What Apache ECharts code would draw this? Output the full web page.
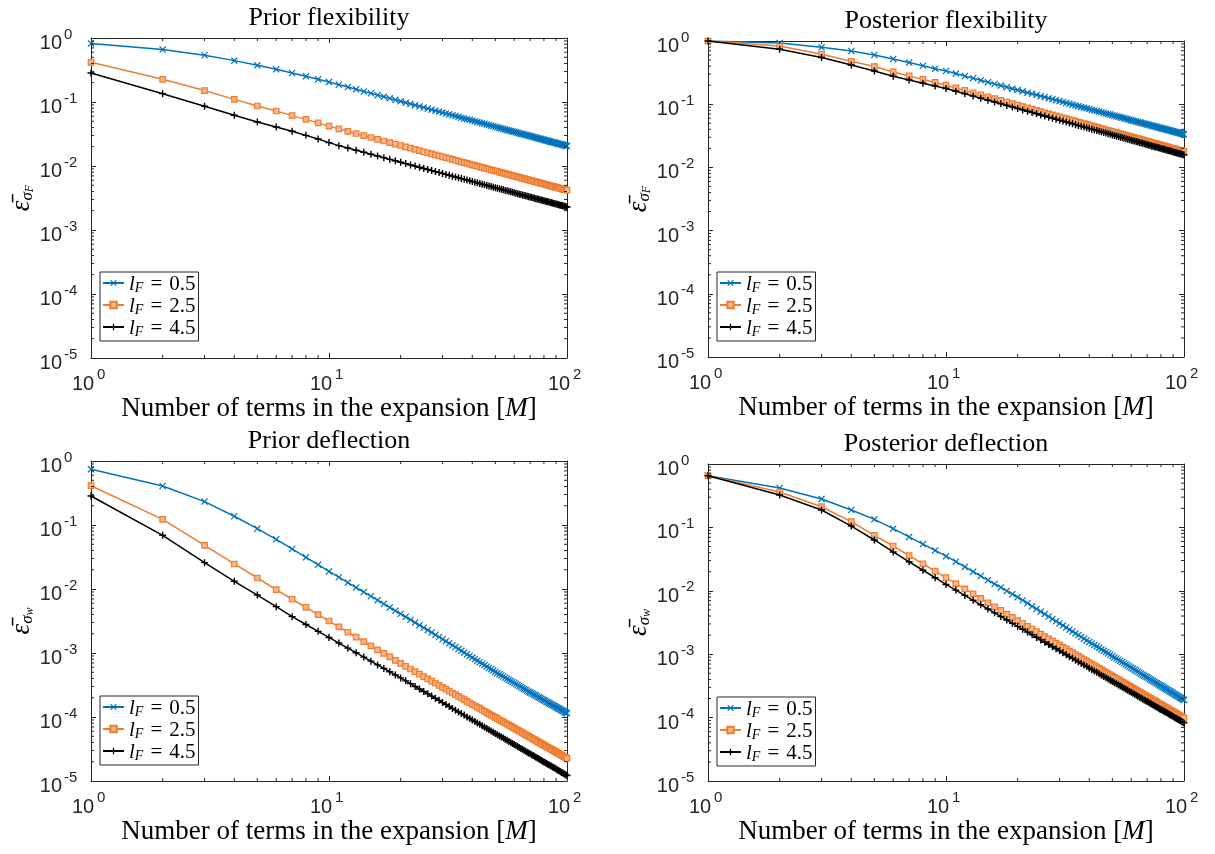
<!DOCTYPE html>
<html>
<head>
<meta charset="utf-8">
<script src="https://cdn.jsdelivr.net/npm/echarts@6.0.0/dist/echarts.min.js"></script>
<style>html,body{margin:0;padding:0;background:#fff}#c{width:1215px;height:854px}</style>
</head>
<body>
<div id="c"></div>
<script>
// ---------------- data ----------------
const M = [1,2,3,4,5,6,7,8,9,10,11,12,13,14,15,16,17,18,19,20,21,22,23,24,25,26,27,28,29,30,
31,32,33,34,35,36,37,38,39,40,41,42,43,44,45,46,47,48,49,50,51,52,53,54,55,56,57,58,59,60,
61,62,63,64,65,66,67,68,69,70,71,72,73,74,75,76,77,78,79,80,81,82,83,84,85,86,87,88,89,90,
91,92,93,94,95,96,97,98,99,100];

const TITLES = ['Prior flexibility', 'Posterior flexibility', 'Prior deflection', 'Posterior deflection'];
const Y_SUBS = ['F', 'F', 'w', 'w'];
const LF_VALUES = ['0.5', '2.5', '4.5'];
const X_LABEL = 'Number of terms in the expansion';
const TICK_BASE = '10';

const priorFlexL05 = [0.818,0.659,0.537,0.443,0.374,0.324,0.284,0.252,0.226,0.205,
0.186,0.171,0.158,0.146,0.137,0.128,0.121,0.114,0.108,0.1025,
0.0976,0.0932,0.0891,0.0854,0.082,0.0788,0.0759,0.0732,0.0707,0.0683,
0.0661,0.0641,0.0621,0.0603,0.0586,0.0569,0.0554,0.0539,0.0526,0.0513,
0.05,0.0488,0.0477,0.0466,0.0456,0.0446,0.0436,0.0427,0.0418,0.041,
0.0402,0.0394,0.0387,0.038,0.0373,0.0366,0.036,0.0353,0.0347,0.0342,
0.0336,0.0331,0.0325,0.032,0.0315,0.0311,0.0306,0.0301,0.0297,0.0293,
0.0289,0.0285,0.0281,0.0277,0.0273,0.027,0.0266,0.0263,0.0259,0.0256,
0.0253,0.025,0.0247,0.0244,0.0241,0.0238,0.0236,0.0233,0.023,0.0228,
0.0225,0.0223,0.022,0.0218,0.0216,0.0214,0.0211,0.0209,0.0207,0.0205];
const priorFlexL25 = [0.417,0.226,0.151,0.110,0.0866,0.0724,0.0613,0.0535,0.0472,0.0420,
0.038,0.0348,0.0322,0.0299,0.0279,0.0261,0.0246,0.0232,0.022,0.0209,
0.0199,0.019,0.0182,0.0174,0.0167,0.0161,0.0155,0.0149,0.0144,0.0139,
0.0135,0.0131,0.0127,0.0123,0.0119,0.0116,0.0113,0.011,0.0107,0.01045,
0.0102,0.00995,0.00972,0.0095,0.00929,0.00909,0.00889,0.00871,0.00853,0.00836,
0.0082,0.00804,0.00789,0.00774,0.0076,0.00746,0.00733,0.00721,0.00708,0.00697,
0.00685,0.00674,0.00663,0.00653,0.00643,0.00633,0.00624,0.00615,0.00606,0.00597,
0.00589,0.00581,0.00573,0.00565,0.00557,0.0055,0.00543,0.00536,0.00529,0.00523,
0.00516,0.0051,0.00504,0.00498,0.00492,0.00486,0.0048,0.00475,0.0047,0.00464,
0.00459,0.00454,0.00449,0.00445,0.0044,0.00435,0.00431,0.00427,0.00422,0.00418];
const priorFlexL45 = [0.284,0.135,0.0857,0.062,0.0487,0.0407,0.0349,0.0301,0.0264,0.0232,
0.0208,0.0191,0.0176,0.0164,0.0153,0.0143,0.0135,0.0127,0.0121,0.01145,
0.0109,0.0104,0.00996,0.00954,0.00916,0.00881,0.00848,0.00818,0.0079,0.00763,
0.00739,0.00716,0.00694,0.00674,0.00654,0.00636,0.00619,0.00603,0.00587,0.00573,
0.00559,0.00545,0.00533,0.0052,0.00509,0.00498,0.00487,0.00477,0.00467,0.00458,
0.00449,0.0044,0.00432,0.00424,0.00416,0.00409,0.00402,0.00395,0.00388,0.00382,
0.00375,0.00369,0.00363,0.00358,0.00352,0.00347,0.00342,0.00337,0.00332,0.00327,
0.00323,0.00318,0.00314,0.00309,0.00305,0.00301,0.00297,0.00294,0.0029,0.00286,
0.00283,0.00279,0.00276,0.00273,0.00269,0.00266,0.00263,0.0026,0.00257,0.00254,
0.00252,0.00249,0.00246,0.00244,0.00241,0.00239,0.00236,0.00234,0.00231,0.00229];

const postFlexL05 = [1.0,0.93,0.795,0.695,0.601,0.52,0.456,0.406,0.365,0.335,
0.305,0.279,0.258,0.239,0.223,0.209,0.197,0.186,0.176,0.1675,
0.16,0.152,0.146,0.14,0.134,0.129,0.124,0.12,0.116,0.112,
0.108,0.105,0.102,0.0985,0.0957,0.0931,0.0905,0.0882,0.0859,0.0838,
0.0817,0.0798,0.0779,0.0761,0.0744,0.0728,0.0713,0.0698,0.0684,0.067,
0.0657,0.0644,0.0632,0.062,0.0609,0.0598,0.0588,0.0578,0.0568,0.0558,
0.0549,0.054,0.0532,0.0523,0.0515,0.0508,0.05,0.0493,0.0486,0.0479,
0.0472,0.0465,0.0459,0.0453,0.0447,0.0441,0.0435,0.0429,0.0424,0.0419,
0.0414,0.0409,0.0404,0.0399,0.0394,0.039,0.0385,0.0381,0.0376,0.0372,
0.0368,0.0364,0.036,0.0356,0.0353,0.0349,0.0345,0.0342,0.0338,0.0335];
const postFlexL25 = [1.0,0.834,0.617,0.478,0.394,0.324,0.280,0.247,0.221,0.200,
0.181,0.165,0.1518,0.1404,0.1307,0.1221,0.1146,0.1079,0.1019,0.0966,
0.0918,0.0874,0.0834,0.0798,0.0764,0.0733,0.0705,0.0679,0.0654,0.0631,
0.061,0.059,0.0571,0.0554,0.0537,0.0521,0.0507,0.0493,0.0479,0.0467,
0.0455,0.0443,0.0433,0.0422,0.0412,0.0403,0.0394,0.0386,0.0377,0.0369,
0.0362,0.0354,0.0347,0.034,0.0334,0.0328,0.0322,0.0316,0.031,0.0305,
0.0299,0.0295,0.0289,0.0285,0.028,0.0276,0.0272,0.0267,0.0263,0.0259,
0.0255,0.0252,0.0248,0.0244,0.0241,0.0238,0.0235,0.0231,0.0228,0.0225,
0.0222,0.022,0.0217,0.0214,0.0211,0.0209,0.0206,0.0204,0.0201,0.0199,
0.0197,0.0194,0.0192,0.019,0.0188,0.0186,0.0184,0.0182,0.018,0.0178];
const postFlexL45 = [1.0,0.74,0.547,0.418,0.336,0.277,0.242,0.215,0.194,0.177,
0.160,0.146,0.1343,0.1243,0.1157,0.1081,0.1014,0.0955,0.0902,0.0855,
0.0812,0.0773,0.0738,0.0706,0.0676,0.0649,0.0624,0.0601,0.0579,0.0558,
0.054,0.0522,0.0505,0.049,0.0475,0.0461,0.0449,0.0436,0.0424,0.0413,
0.0403,0.0392,0.0383,0.0373,0.0365,0.0357,0.0349,0.0342,0.0334,0.0327,
0.032,0.0313,0.0307,0.0301,0.0296,0.029,0.0285,0.028,0.0274,0.027,
0.0265,0.0261,0.0256,0.0252,0.0248,0.0244,0.0241,0.0236,0.0233,0.0229,
0.0226,0.0223,0.0219,0.0216,0.0213,0.0211,0.0208,0.0204,0.0202,0.0199,
0.0196,0.0195,0.0192,0.0189,0.0187,0.0185,0.0182,0.0181,0.0178,0.0176,
0.0174,0.0172,0.017,0.0168,0.0166,0.0165,0.0163,0.0161,0.0159,0.0158];

const priorDeflL05 = [0.741,0.407,0.232,0.137,0.0877,0.0597,0.0422,0.0312,0.024,0.0188,
0.01528,0.01259,0.01054,0.00897,0.00771,0.00668,0.00586,0.00516,0.00457,0.00409,
0.00367,0.00331,0.00299,0.00272,0.00248,0.00227,0.00209,0.00192,0.00178,0.00164,
0.00153,0.00142,0.00132,0.00124,0.00115,0.00108,0.00102,9.53e-4,9.0e-4,8.48e-4,
8.0e-4,7.59e-4,7.19e-4,6.82e-4,6.47e-4,6.14e-4,5.85e-4,5.59e-4,5.32e-4,5.07e-4,
4.84e-4,4.66e-4,4.47e-4,4.29e-4,4.12e-4,3.95e-4,3.80e-4,3.66e-4,3.52e-4,3.40e-4,
3.28e-4,3.16e-4,3.05e-4,2.95e-4,2.84e-4,2.75e-4,2.67e-4,2.57e-4,2.49e-4,2.42e-4,
2.35e-4,2.29e-4,2.22e-4,2.16e-4,2.09e-4,2.03e-4,1.99e-4,1.93e-4,1.88e-4,1.83e-4,
1.79e-4,1.73e-4,1.69e-4,1.65e-4,1.61e-4,1.57e-4,1.53e-4,1.50e-4,1.47e-4,1.43e-4,
1.40e-4,1.36e-4,1.34e-4,1.30e-4,1.27e-4,1.25e-4,1.22e-4,1.19e-4,1.17e-4,1.14e-4];
const priorDeflL25 = [0.411,0.1227,0.0481,0.0246,0.01486,0.00977,0.00692,0.00516,0.00398,0.00316,
0.00256,0.00211,0.00177,0.00151,0.00129,0.00112,9.84e-4,8.67e-4,7.67e-4,6.87e-4,
6.20e-4,5.62e-4,5.11e-4,4.67e-4,4.28e-4,3.94e-4,3.64e-4,3.37e-4,3.13e-4,2.91e-4,
2.72e-4,2.54e-4,2.37e-4,2.24e-4,2.10e-4,1.98e-4,1.87e-4,1.76e-4,1.67e-4,1.58e-4,
1.50e-4,1.43e-4,1.36e-4,1.29e-4,1.23e-4,1.17e-4,1.12e-4,1.07e-4,1.03e-4,9.84e-5,
9.42e-5,9.06e-5,8.71e-5,8.38e-5,8.06e-5,7.75e-5,7.45e-5,7.21e-5,6.93e-5,6.70e-5,
6.47e-5,6.25e-5,6.04e-5,5.84e-5,5.64e-5,5.45e-5,5.30e-5,5.12e-5,4.97e-5,4.83e-5,
4.69e-5,4.55e-5,4.42e-5,4.29e-5,4.17e-5,4.05e-5,3.95e-5,3.84e-5,3.73e-5,3.64e-5,
3.55e-5,3.45e-5,3.36e-5,3.28e-5,3.20e-5,3.13e-5,3.04e-5,2.98e-5,2.91e-5,2.84e-5,
2.77e-5,2.70e-5,2.65e-5,2.59e-5,2.52e-5,2.47e-5,2.41e-5,2.37e-5,2.31e-5,2.26e-5];
const priorDeflL45 = [0.284,0.069,0.0258,0.0132,0.00805,0.0053,0.0037,0.00279,0.00218,0.00175,
0.00143,0.00119,0.00101,8.63e-4,7.46e-4,6.52e-4,5.75e-4,5.09e-4,4.54e-4,4.08e-4,
3.67e-4,3.32e-4,3.0e-4,2.74e-4,2.50e-4,2.30e-4,2.12e-4,1.96e-4,1.82e-4,1.68e-4,
1.57e-4,1.46e-4,1.36e-4,1.28e-4,1.20e-4,1.13e-4,1.07e-4,1.00e-4,9.50e-5,8.99e-5,
8.51e-5,8.09e-5,7.69e-5,7.32e-5,6.96e-5,6.62e-5,6.33e-5,6.05e-5,5.78e-5,5.53e-5,
5.28e-5,5.07e-5,4.87e-5,4.68e-5,4.50e-5,4.32e-5,4.15e-5,4.01e-5,3.85e-5,3.72e-5,
3.59e-5,3.46e-5,3.35e-5,3.23e-5,3.12e-5,3.01e-5,2.92e-5,2.82e-5,2.74e-5,2.66e-5,
2.58e-5,2.50e-5,2.43e-5,2.35e-5,2.28e-5,2.22e-5,2.16e-5,2.10e-5,2.04e-5,1.98e-5,
1.94e-5,1.88e-5,1.83e-5,1.79e-5,1.74e-5,1.70e-5,1.65e-5,1.62e-5,1.58e-5,1.54e-5,
1.50e-5,1.46e-5,1.43e-5,1.40e-5,1.36e-5,1.33e-5,1.30e-5,1.28e-5,1.24e-5,1.22e-5];

const postDeflL05 = [0.654,0.418,0.281,0.188,0.134,0.0955,0.0707,0.0545,0.0433,0.0352,
0.0288,0.0238,0.0200,0.0171,0.0147,0.0128,0.0113,0.00997,0.00885,0.00794,
0.00709,0.00636,0.00571,0.00518,0.0047,0.00429,0.00393,0.0036,0.00332,0.00306,
0.00284,0.00263,0.00244,0.00229,0.00213,0.0020,0.00187,0.00176,0.00165,0.00156,
0.00147,0.0014,0.00132,0.00126,0.00119,0.00113,0.00108,0.00103,9.79e-4,9.33e-4,
8.90e-4,8.53e-4,8.17e-4,7.83e-4,7.51e-4,7.20e-4,6.90e-4,6.65e-4,6.37e-4,6.14e-4,
5.92e-4,5.70e-4,5.49e-4,5.29e-4,5.10e-4,4.92e-4,4.76e-4,4.59e-4,4.44e-4,4.31e-4,
4.17e-4,4.04e-4,3.91e-4,3.79e-4,3.67e-4,3.56e-4,3.47e-4,3.36e-4,3.25e-4,3.17e-4,
3.08e-4,2.99e-4,2.91e-4,2.83e-4,2.76e-4,2.69e-4,2.60e-4,2.55e-4,2.48e-4,2.42e-4,
2.35e-4,2.29e-4,2.24e-4,2.19e-4,2.13e-4,2.08e-4,2.03e-4,1.99e-4,1.93e-4,1.89e-4];
const postDeflL25 = [0.654,0.362,0.212,0.123,0.075,0.0509,0.036,0.0267,0.0205,0.0161,
0.013,0.0107,0.00893,0.00757,0.00648,0.0056,0.0049,0.0043,0.0038,0.00339,
0.00305,0.00275,0.00249,0.00227,0.00207,0.0019,0.00175,0.00162,0.0015,0.00139,
0.00129,0.00121,0.00112,0.00106,9.89e-4,9.31e-4,8.76e-4,8.24e-4,7.80e-4,7.38e-4,
6.98e-4,6.63e-4,6.30e-4,5.99e-4,5.70e-4,5.42e-4,5.18e-4,4.94e-4,4.72e-4,4.51e-4,
4.31e-4,4.14e-4,3.98e-4,3.82e-4,3.67e-4,3.52e-4,3.38e-4,3.26e-4,3.13e-4,3.02e-4,
2.92e-4,2.82e-4,2.72e-4,2.62e-4,2.53e-4,2.45e-4,2.37e-4,2.29e-4,2.22e-4,2.15e-4,
2.09e-4,2.03e-4,1.97e-4,1.91e-4,1.85e-4,1.80e-4,1.75e-4,1.70e-4,1.65e-4,1.61e-4,
1.57e-4,1.52e-4,1.48e-4,1.44e-4,1.41e-4,1.37e-4,1.33e-4,1.30e-4,1.27e-4,1.24e-4,
1.21e-4,1.18e-4,1.16e-4,1.13e-4,1.10e-4,1.08e-4,1.05e-4,1.03e-4,1.00e-4,9.82e-5];
const postDeflL45 = [0.654,0.324,0.188,0.105,0.0633,0.041,0.0287,0.0211,0.0161,0.0126,
0.01025,0.00846,0.00708,0.00602,0.00517,0.00449,0.00394,0.00347,0.00307,0.00275,
0.00247,0.00223,0.00202,0.00184,0.00168,0.00154,0.00142,0.00131,0.00122,0.00113,
0.00105,9.79e-4,9.13e-4,8.60e-4,8.06e-4,7.59e-4,7.15e-4,6.73e-4,6.37e-4,6.03e-4,
5.71e-4,5.43e-4,5.17e-4,4.91e-4,4.67e-4,4.45e-4,4.25e-4,4.06e-4,3.88e-4,3.71e-4,
3.55e-4,3.41e-4,3.28e-4,3.15e-4,3.03e-4,2.91e-4,2.79e-4,2.70e-4,2.59e-4,2.50e-4,
2.42e-4,2.33e-4,2.25e-4,2.18e-4,2.10e-4,2.03e-4,1.97e-4,1.90e-4,1.85e-4,1.79e-4,
1.74e-4,1.69e-4,1.64e-4,1.59e-4,1.54e-4,1.50e-4,1.46e-4,1.42e-4,1.37e-4,1.34e-4,
1.31e-4,1.27e-4,1.24e-4,1.21e-4,1.18e-4,1.15e-4,1.11e-4,1.09e-4,1.07e-4,1.04e-4,
1.01e-4,9.88e-5,9.69e-5,9.45e-5,9.21e-5,9.03e-5,8.81e-5,8.63e-5,8.42e-5,8.25e-5];

const PANEL_DATA = [
  [priorFlexL05, priorFlexL25, priorFlexL45],
  [postFlexL05, postFlexL25, postFlexL45],
  [priorDeflL05, priorDeflL25, priorDeflL45],
  [postDeflL05, postDeflL25, postDeflL45]
];

// ---------------- layout / style ----------------
const SERIF = "'Liberation Serif', 'DejaVu Serif', serif";
const SANS = "'Liberation Sans', Arial, sans-serif";
const AX = '#262626';
const GRIDS = [
  {left: 91, top: 38, width: 476, height: 320},
  {left: 708, top: 41, width: 476, height: 316},
  {left: 91, top: 461, width: 476, height: 320},
  {left: 708, top: 464, width: 476, height: 317}
];
const LEGEND_POS = [[100, 272], [717, 272], [100, 696], [717, 697]];
const CROSS = 'path://M0,1.2L1.2,0L5,3.8L8.8,0L10,1.2L6.2,5L10,8.8L8.8,10L5,6.2L1.2,10L0,8.8L3.8,5Z';
const PLUS = 'path://M4,0L6,0L6,4L10,4L10,6L6,6L6,10L4,10L4,6L0,6L0,4L4,4Z';
const STYLES = [
  {color: '#0072BD', fill: '#0072BD', symbol: CROSS, size: 7, bw: 0},
  {color: '#ED7D31', fill: '#F6B78C', symbol: 'rect', size: 5.5, bw: 1.2},
  {color: '#000000', fill: '#000000', symbol: PLUS, size: 7, bw: 0}
];
const NAMES = LF_VALUES.map(v => 'lF = ' + v);

const MINOR_X = [2,3,4,5,6,7,8,9,20,30,40,50,60,70,80,90];
const MINOR_Y = [];
for (let d = -5; d <= -1; d++) for (let m = 2; m <= 9; m++) MINOR_Y.push(m * Math.pow(10, d));

const expOf = v => String(Math.round(Math.log10(v)));
const baseFont = {fontFamily: SANS, fontSize: 20, color: AX};
const expFont = {fontFamily: SANS, fontSize: 15, color: AX};

const xAxis = [], yAxis = [], series = [];
GRIDS.forEach((g, gi) => {
  const line = {show: true, onZero: false, lineStyle: {color: AX, width: 1}};
  const tick = {show: true, inside: true, length: 5, lineStyle: {color: AX, width: 1}};
  const X = {gridIndex: gi, type: 'log', logBase: 10, min: 1, max: 100, splitLine: {show: false}};
  const Y = {gridIndex: gi, type: 'log', logBase: 10, min: 1e-5, max: 1, splitLine: {show: false}};
  // bottom: base "10" labels + axis title
  xAxis.push(Object.assign({}, X, {
    position: 'bottom', axisLine: line, axisTick: tick,
    axisLabel: Object.assign({}, baseFont, {lineHeight: 20, formatter: () => TICK_BASE, margin: 16,
      align: 'center', padding: [0, 16, 0, 0], showMinLabel: true, showMaxLabel: true}),
    name: '{n|' + X_LABEL + ' [}{m|M}{n|]}', nameLocation: 'middle', nameGap: 37,
    nameTextStyle: {rich: {
      n: {fontFamily: SERIF, fontSize: 27, lineHeight: 28, color: '#000'},
      m: {fontFamily: SERIF, fontSize: 27, lineHeight: 28, fontStyle: 'italic', color: '#000'}
    }}
  }));
  // bottom: exponent labels
  xAxis.push(Object.assign({}, X, {
    position: 'bottom', axisLine: {show: false}, axisTick: {show: false},
    axisLabel: Object.assign({}, expFont, {lineHeight: 15, formatter: expOf, margin: 9, align: 'left',
      padding: [0, 0, 0, 6], showMinLabel: true, showMaxLabel: true})
  }));
  // top: frame + panel title
  xAxis.push(Object.assign({}, X, {
    position: 'top', axisLine: line, axisTick: tick, axisLabel: {show: false},
    name: TITLES[gi], nameLocation: 'middle', nameGap: 6,
    nameTextStyle: {fontFamily: SERIF, fontSize: 26, lineHeight: 28, color: '#000'}
  }));
  // left: base labels + axis name
  yAxis.push(Object.assign({}, Y, {
    position: 'left', axisLine: line, axisTick: tick,
    axisLabel: Object.assign({}, baseFont, {lineHeight: 11, verticalAlign: 'top', formatter: () => TICK_BASE,
      margin: 29, showMinLabel: true, showMaxLabel: true}),
    name: '{e|\u03B5\u0304}{s|\u03C3}{f|' + Y_SUBS[gi] + '}', nameLocation: 'middle', nameGap: 54,
    nameTextStyle: {rich: {
      e: {fontFamily: SERIF, fontSize: 27, lineHeight: 28, fontStyle: 'italic', color: '#000', verticalAlign: 'bottom'},
      s: {fontFamily: SERIF, fontSize: 17, lineHeight: 16, fontStyle: 'italic', color: '#000', verticalAlign: 'bottom'},
      f: {fontFamily: SERIF, fontSize: 12, lineHeight: 10, fontStyle: 'italic', color: '#000', verticalAlign: 'bottom'}
    }}
  }));
  // left: exponent labels
  yAxis.push(Object.assign({}, Y, {
    position: 'left', axisLine: {show: false}, axisTick: {show: false},
    axisLabel: Object.assign({}, expFont, {lineHeight: 7, verticalAlign: 'bottom', formatter: expOf,
      margin: 27, align: 'left', showMinLabel: true, showMaxLabel: true})
  }));
  // right: frame
  yAxis.push(Object.assign({}, Y, {
    position: 'right', axisLine: line, axisTick: tick, axisLabel: {show: false}
  }));

  const xi = 3 * gi, yi = 3 * gi;
  PANEL_DATA[gi].forEach((vals, k) => {
    const st = STYLES[k];
    series.push({
      type: 'line', name: NAMES[k], xAxisIndex: xi, yAxisIndex: yi,
      data: M.map((m, j) => [m, vals[j]]),
      symbol: st.symbol, symbolSize: st.size, showSymbol: true, showAllSymbol: true,
      lineStyle: {color: st.color, width: 1.5},
      itemStyle: {color: st.fill, borderColor: st.color, borderWidth: st.bw},
      emphasis: {disabled: true}, silent: true, z: 2 + k, animation: false
    });
  });

  const tdata = [];
  MINOR_X.forEach(v => tdata.push([v, 1, 0]));
  MINOR_Y.forEach(v => tdata.push([1, v, 1]));
  series.push({
    type: 'custom', xAxisIndex: xi, yAxisIndex: yi, silent: true, z: 6, clip: false,
    animation: false, data: tdata,
    renderItem(params, api) {
      const cs = params.coordSys;
      const p = api.coord([api.value(0), api.value(1)]);
      const L = 3;
      let segs;
      if (api.value(2) === 0) {
        const x = p[0];
        segs = [[x, cs.y + cs.height, x, cs.y + cs.height - L], [x, cs.y, x, cs.y + L]];
      } else {
        const y = p[1];
        segs = [[cs.x, y, cs.x + L, y], [cs.x + cs.width, y, cs.x + cs.width - L, y]];
      }
      return {type: 'group', children: segs.map(s => ({
        type: 'line', shape: {x1: s[0], y1: s[1], x2: s[2], y2: s[3]},
        style: {stroke: AX, lineWidth: 1}
      }))};
    }
  });
});

const legendRich = {
  i: {fontFamily: SERIF, fontSize: 21, lineHeight: 24, fontStyle: 'italic', color: '#000', verticalAlign: 'bottom'},
  s: {fontFamily: SERIF, fontSize: 14, lineHeight: 14, fontStyle: 'italic', color: '#000', verticalAlign: 'bottom'},
  n: {fontFamily: SERIF, fontSize: 21, lineHeight: 24, color: '#000', verticalAlign: 'bottom'}
};
const legend = LEGEND_POS.map(([l, t]) => ({
  left: l, top: t, orient: 'vertical', data: NAMES, selectedMode: false,
  itemWidth: 21, itemHeight: 8, itemGap: 1, padding: [2, 3, 2, 2],
  backgroundColor: '#fff', borderColor: AX, borderWidth: 1, z: 10,
  formatter: name => {
    const k = NAMES.indexOf(name);
    return '{i|l}{s|F}{n|\u2004=\u2004' + LF_VALUES[k] + '}';
  },
  textStyle: {rich: legendRich}
}));

const chart = echarts.init(document.getElementById('c'), null, {renderer: 'canvas', width: 1215, height: 854});
chart.setOption({
  backgroundColor: '#fff',
  animation: false,
  grid: GRIDS,
  xAxis, yAxis, series, legend
});
</script>
</body>
</html>
